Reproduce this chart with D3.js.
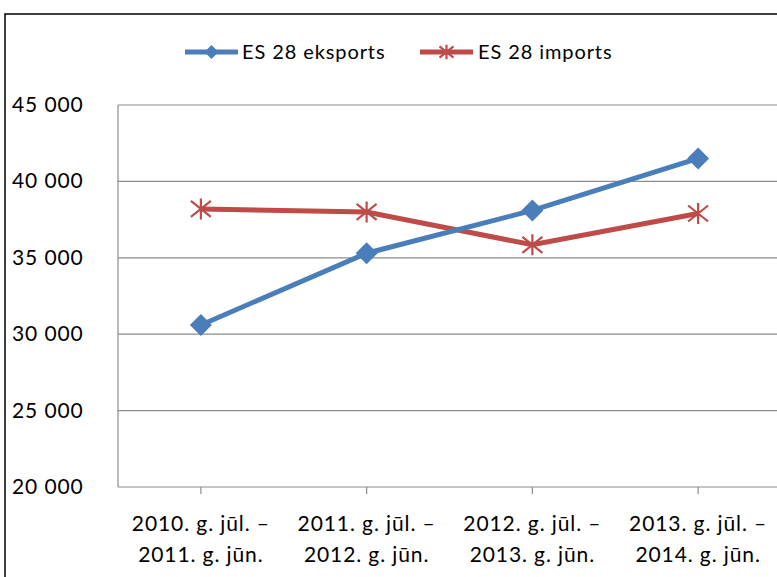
<!DOCTYPE html>
<html>
<head>
<meta charset="utf-8">
<script src="https://cdn.jsdelivr.net/npm/d3@7"></script>
<style>
  body { margin: 0; background: #fff; }
  text { font-family: Lato, "Open Sans", sans-serif; fill: #000; letter-spacing: 0.9px; }
</style>
</head>
<body>
<div id="chart"></div>
<script>
// chart data
var categories = [
  ['2010. g. jūl. –', '2011. g. jūn.'],
  ['2011. g. jūl. –', '2012. g. jūn.'],
  ['2012. g. jūl. –', '2013. g. jūn.'],
  ['2013. g. jūl. –', '2014. g. jūn.']
];
var seriesNames = ['ES 28 eksports', 'ES 28 imports'];
var exportValues = [30600, 35300, 38100, 41500];
var importValues = [38200, 38000, 35850, 37900];
var yTicks = [20000, 25000, 30000, 35000, 40000, 45000];

var W = 777, H = 577;
var m = {left: 118, right: -4, top: 105, bottom: 90};

var svg = d3.select('#chart').append('svg').attr('width', W).attr('height', H);

// outer frame (only left and top edges are inside the picture)
svg.append('rect').attr('x', 5).attr('y', 14).attr('width', W + 20).attr('height', H + 20)
  .attr('fill', 'none').attr('stroke', '#000').attr('stroke-width', 1.5);

var x = d3.scalePoint().domain(d3.range(categories.length))
  .range([m.left, W - m.right]).padding(0.5);
var y = d3.scaleLinear().domain([20000, 45000]).range([H - m.bottom, m.top]);

var fmt = function(v){ return d3.format(',')(v).replace(',', ' '); };

// gridlines
svg.append('g').selectAll('line').data(yTicks).enter().append('line')
  .attr('x1', m.left).attr('x2', W - m.right)
  .attr('y1', function(d){ return y(d); }).attr('y2', function(d){ return y(d); })
  .attr('stroke', '#8c8c8c').attr('stroke-width', 1.2);

// y axis line + labels
svg.append('line').attr('x1', m.left).attr('x2', m.left)
  .attr('y1', y(45000)).attr('y2', y(20000)).attr('stroke', '#8c8c8c').attr('stroke-width', 1.2);
svg.append('g').selectAll('text').data(yTicks).enter().append('text')
  .attr('x', 12).attr('y', function(d){ return y(d) + 7; })
  .style('font-size', '21px')
  .text(fmt);

// x axis ticks + labels
var xa = svg.append('g').attr('transform', 'translate(0,' + y(20000) + ')');
xa.selectAll('line').data(d3.range(categories.length)).enter().append('line')
  .attr('x1', function(d){ return x(d); }).attr('x2', function(d){ return x(d); })
  .attr('y1', 0).attr('y2', 7).attr('stroke', '#8c8c8c').attr('stroke-width', 1.2);
var xl = xa.selectAll('text').data(categories).enter().append('text')
  .attr('text-anchor', 'middle').style('font-size', '21px');
xl.append('tspan').attr('x', function(d, i){ return x(i); }).attr('y', 44).text(function(d){ return d[0]; });
xl.append('tspan').attr('x', function(d, i){ return x(i); }).attr('y', 75).text(function(d){ return d[1]; });

var blue = '#4a7ebb', red = '#be4b48';
var line = d3.line().x(function(d, i){ return x(i); }).y(function(d){ return y(d); });

function diamond(g, cx, cy, r) {
  g.append('path').attr('d', 'M' + cx + ',' + (cy - r) + 'L' + (cx + r) + ',' + cy +
      'L' + cx + ',' + (cy + r) + 'L' + (cx - r) + ',' + cy + 'Z').attr('fill', blue);
}
function star(g, cx, cy, r) {
  var d = 'M' + (cx - r) + ',' + (cy - r * 0.8) + 'L' + (cx + r) + ',' + (cy + r * 0.8) +
          'M' + (cx - r) + ',' + (cy + r * 0.8) + 'L' + (cx + r) + ',' + (cy - r * 0.8) +
          'M' + cx + ',' + (cy - r * 1.05) + 'L' + cx + ',' + (cy + r * 1.05);
  g.append('path').attr('d', d).attr('stroke', red).attr('stroke-width', 2.2).attr('fill', 'none');
}

// series
svg.append('path').datum(importValues).attr('d', line).attr('fill', 'none')
  .attr('stroke', red).attr('stroke-width', 5);
svg.append('path').datum(exportValues).attr('d', line).attr('fill', 'none')
  .attr('stroke', blue).attr('stroke-width', 5);
var mk = svg.append('g');
importValues.forEach(function(v, i){ star(mk, x(i), y(v), 10); });
exportValues.forEach(function(v, i){ diamond(mk, x(i), y(v), 11); });

// legend
var lg = svg.append('g');
lg.append('line').attr('x1', 185).attr('x2', 238).attr('y1', 52).attr('y2', 52)
  .attr('stroke', blue).attr('stroke-width', 5);
diamond(lg, 211.5, 52, 7);
lg.append('text').attr('x', 242).attr('y', 59).style('font-size', '20px').text(seriesNames[0]);
lg.append('line').attr('x1', 420).attr('x2', 473).attr('y1', 52).attr('y2', 52)
  .attr('stroke', red).attr('stroke-width', 5);
star(lg, 446.5, 52, 7);
lg.append('text').attr('x', 478).attr('y', 59).style('font-size', '20px').text(seriesNames[1]);
</script>
</body>
</html>
